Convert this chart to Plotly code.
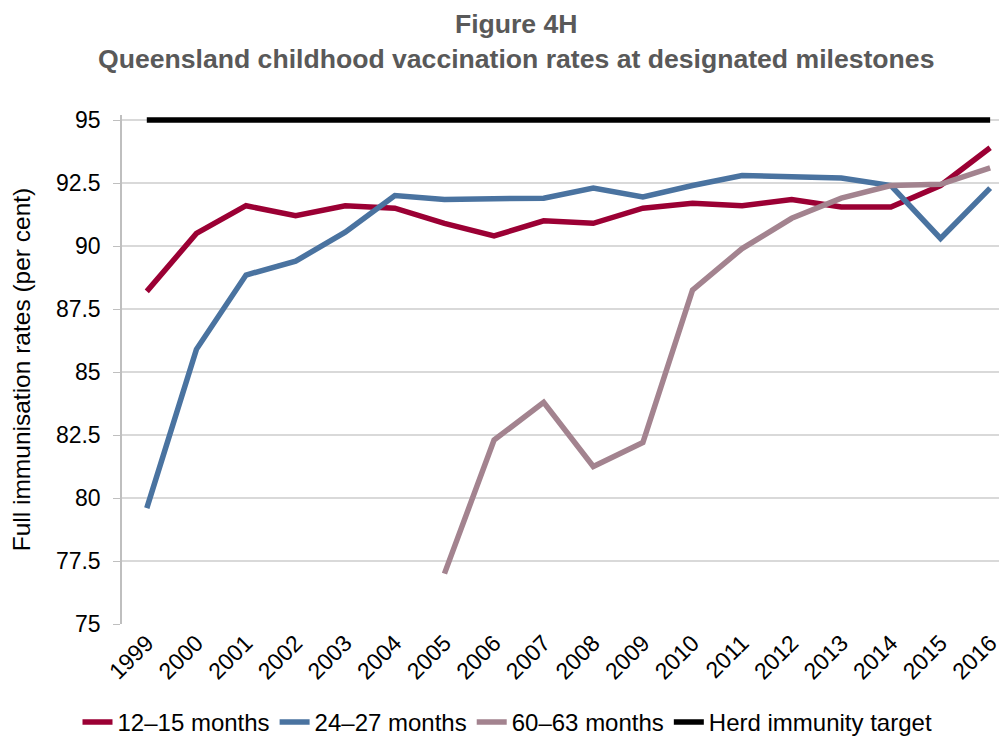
import plotly.graph_objects as go

years = [str(y) for y in range(1999, 2017)]
m12_15 = [88.2, 90.5, 91.6, 91.2, 91.6, 91.5, 90.9, 90.4, 91.0, 90.9, 91.5, 91.7, 91.6, 91.85, 91.55, 91.55, 92.4, 93.9]
m24_27 = [79.6, 85.9, 88.85, 89.4, 90.55, 92.0, 91.85, 91.85, 91.9, 92.3, 91.95, 92.4, 92.8, 92.75, 92.7, 92.4, 90.3, 92.3]
m60_63 = [None, None, None, None, None, None, 77.0, 82.3, 83.8, 81.25, 82.2, 88.25, 89.9, 91.1, 91.9, 92.4, 92.45, 93.1]
herd = [95] * 18
y_ticks = [75, 77.5, 80, 82.5, 85, 87.5, 90, 92.5, 95]
y_ticktext = ["75", "77.5", "80", "82.5", "85", "87.5", "90", "92.5", "95"]

series = [
    ("12–15 months", m12_15, "#9B0034"),
    ("24–27 months", m24_27, "#4A73A0"),
    ("60–63 months", m60_63, "#A3838F"),
    ("Herd immunity target", herd, "#000000"),
]

fig = go.Figure()
for name, vals, col in series:
    fig.add_trace(go.Scatter(x=years, y=vals, name=name, mode="lines",
                             line=dict(color=col, width=5.5), connectgaps=False,
                             cliponaxis=False))

font = "Liberation Sans, Arial, sans-serif"
# page body has an 8px margin; figure sized to fit the 1007x745 window
W, H = 999, 737
PX_PER_UNIT = 25.2
Y_TOP = 95.2
ML, MR, MB = 114, 0, 121
plot_h = (Y_TOP - 75) * PX_PER_UNIT
MT = H - MB - plot_h

fig.update_layout(
    width=W, height=H,
    margin=dict(l=ML, r=MR, t=MT, b=MB),
    paper_bgcolor="white", plot_bgcolor="white",
    font=dict(family=font, size=23, color="#000000"),
    xaxis=dict(type="category", range=[-0.5, 17.34], tickangle=-45,
               showgrid=False, showline=False, ticks="", tickfont=dict(size=23)),
    yaxis=dict(range=[75, Y_TOP], tickvals=y_ticks, ticktext=y_ticktext,
               showgrid=True, gridcolor="#D9D9D9", gridwidth=1.5,
               showline=True, linecolor="#BFBFBF", linewidth=1.5,
               ticks="outside", ticklen=7, tickcolor="#BFBFBF",
               ticklabelstandoff=8,
               title=dict(text="Full immunisation rates (per cent)", font=dict(size=24.5), standoff=18),
               tickfont=dict(size=23), zeroline=False),
    legend=dict(orientation="h", xref="container", yref="container",
                x=0.5, xanchor="center", y=0.0, yanchor="bottom",
                font=dict(size=24), tracegroupgap=0,
                bgcolor="rgba(0,0,0,0)"),
    showlegend=True,
)
fig.add_annotation(
    text="<b>Figure 4H</b><br><b>Queensland childhood vaccination rates at designated milestones</b>",
    xref="paper", yref="paper", x=(508 - ML) / (W - ML - MR), y=1 + (MT + 1) / plot_h,
    xanchor="center", yanchor="top", showarrow=False, align="center",
    font=dict(family=font, size=26.6, color="#595959"))
fig.write_html("out.html")
